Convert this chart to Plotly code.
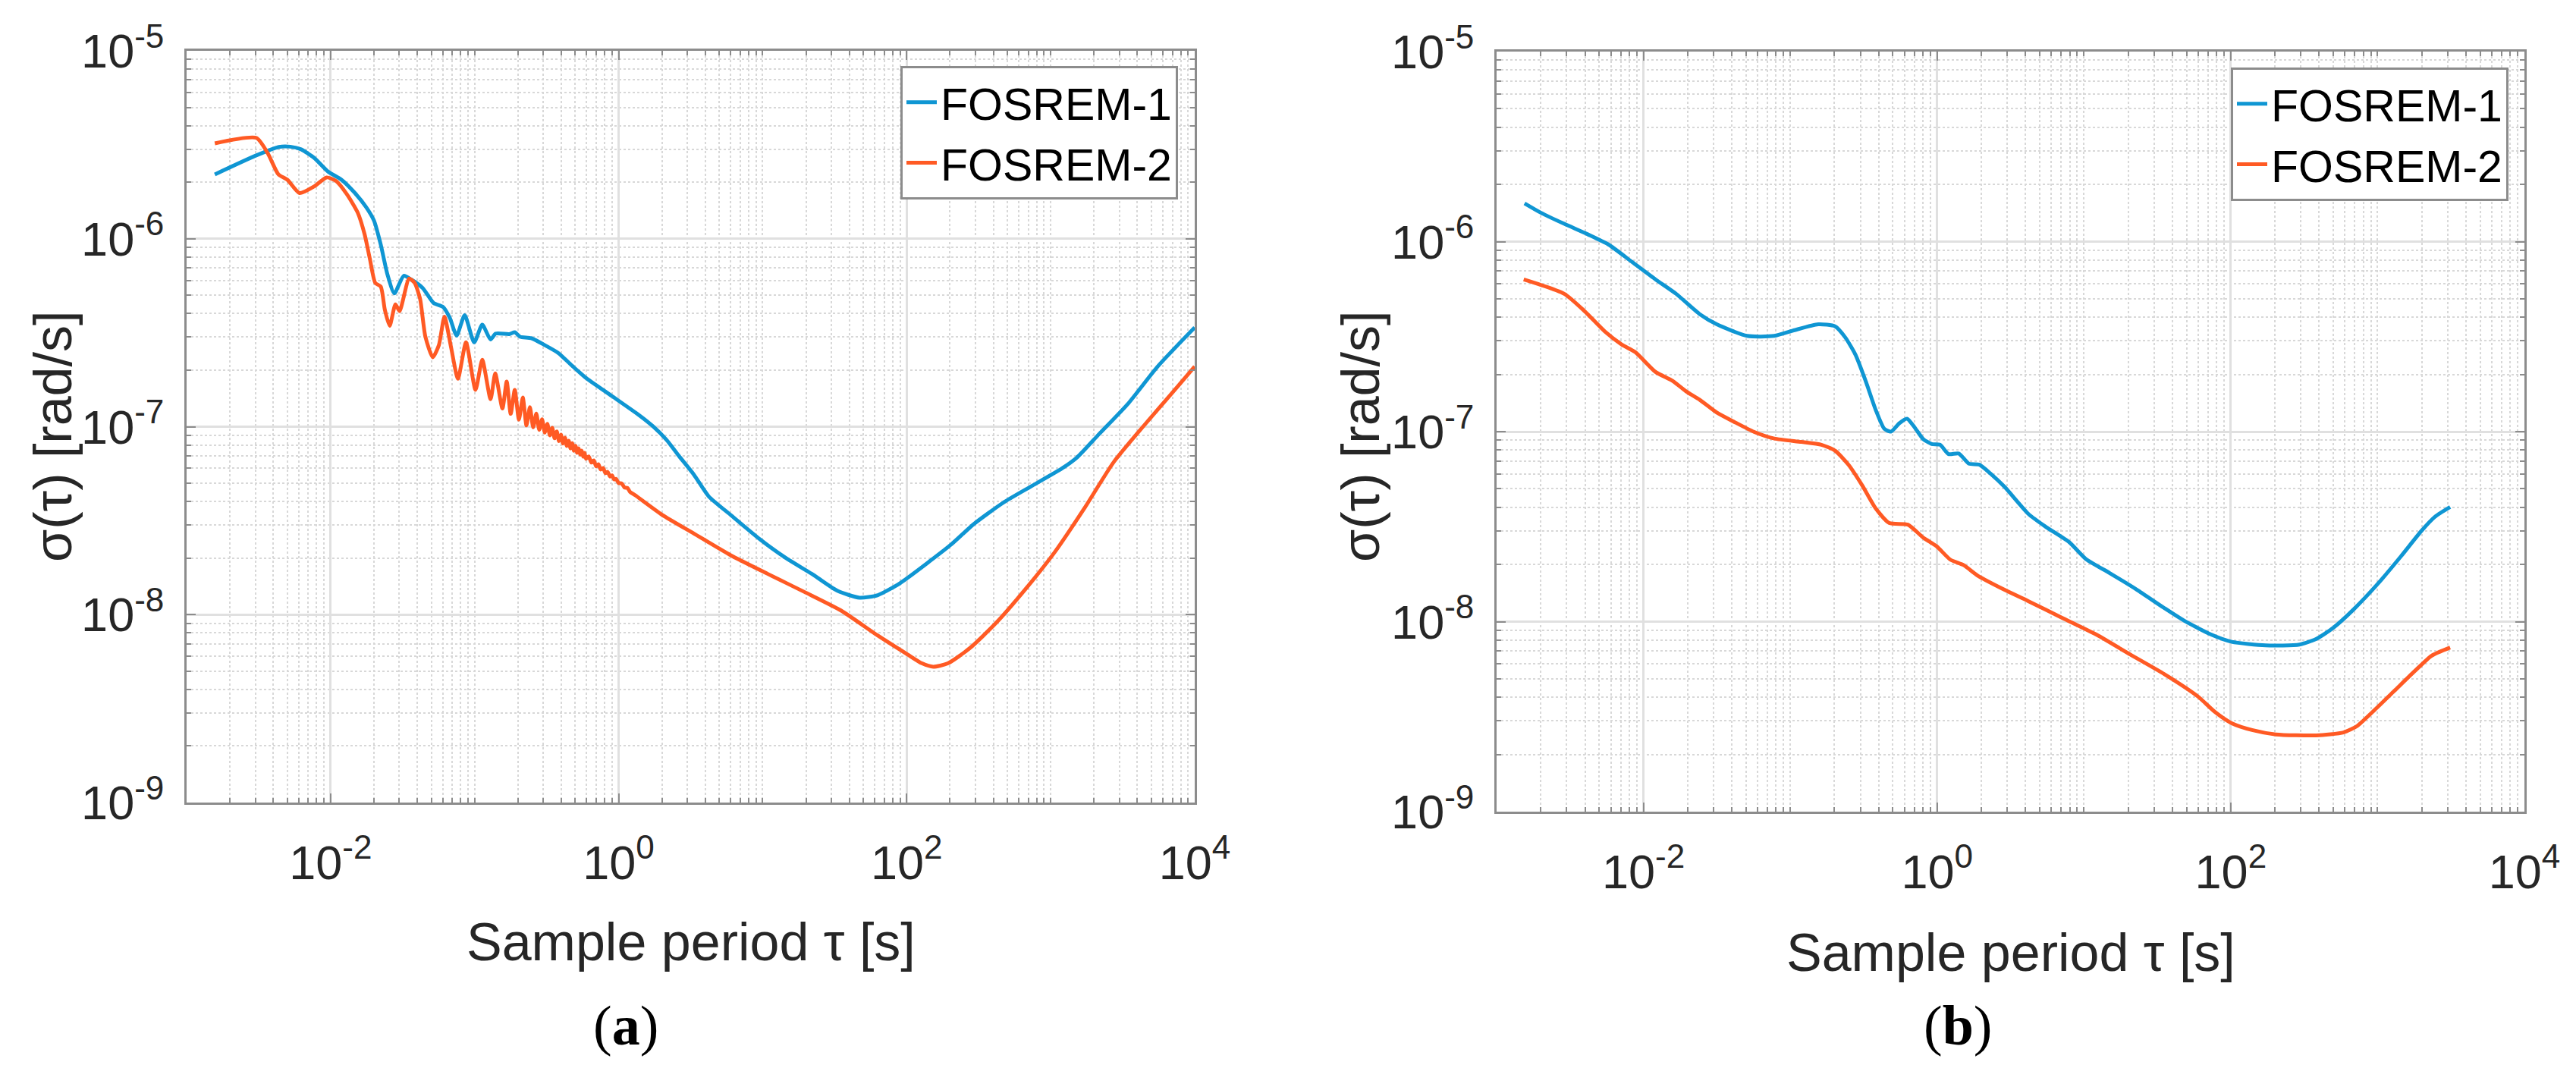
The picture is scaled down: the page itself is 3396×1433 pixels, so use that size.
import plotly.graph_objects as go

# values: (tau [s], sigma [rad/s])
a_fosrem1 = [
    (0.00157, 2.20e-6), (0.00302, 2.77e-6), (0.00437, 3.08e-6), (0.00525, 3.09e-6),
    (0.00624, 2.99e-6), (0.0077, 2.69e-6), (0.00957, 2.28e-6), (0.0119, 2.06e-6),
    (0.01476, 1.75e-6), (0.01758, 1.48e-6), (0.02, 1.25e-6), (0.0223, 9.29e-7),
    (0.0248, 6.46e-7), (0.0277, 5.12e-7), (0.0322, 6.35e-7), (0.0366, 6.04e-7),
    (0.0436, 5.47e-7), (0.0519, 4.55e-7), (0.0603, 4.34e-7), (0.0673, 3.79e-7),
    (0.075, 3.05e-7), (0.0853, 3.92e-7), (0.0993, 2.81e-7), (0.113, 3.49e-7),
    (0.129, 2.91e-7), (0.140, 3.13e-7), (0.174, 3.11e-7), (0.19, 3.18e-7),
    (0.207, 3.01e-7), (0.247, 2.96e-7), (0.306, 2.72e-7), (0.38, 2.47e-7),
    (0.472, 2.12e-7), (0.586, 1.83e-7), (0.904, 1.45e-7), (1.39, 1.15e-7),
    (1.73, 1.005e-7), (2.15, 8.51e-8), (2.63, 6.97e-8), (3.33, 5.56e-8),
    (4.22, 4.26e-8), (6.0, 3.39e-8), (9.62, 2.51e-8), (14.5, 2.0e-8),
    (21.9, 1.65e-8), (33.0, 1.34e-8), (47.1, 1.23e-8), (63.1, 1.27e-8),
    (89.9, 1.47e-8), (144, 1.92e-8), (205, 2.37e-8), (292, 3.03e-8),
    (468, 3.94e-8), (748, 4.86e-8), (1200, 6.0e-8), (1517, 6.84e-8),
    (2158, 9.1e-8), (3459, 1.33e-7), (5534, 2.09e-7), (10000, 3.37e-7),
]

a_fosrem2 = [
    (0.00157, 3.22e-6), (0.00305, 3.44e-6), (0.00366, 2.85e-6), (0.00434, 2.20e-6),
    (0.00501, 2.06e-6), (0.00608, 1.75e-6), (0.0077, 1.90e-6), (0.00938, 2.12e-6),
    (0.0109, 2.03e-6), (0.013, 1.72e-6), (0.0154, 1.38e-6), (0.0172, 1.06e-6),
    (0.0187, 7.87e-7), (0.0204, 5.83e-7), (0.0223, 5.56e-7), (0.0238, 4.19e-7),
    (0.0257, 3.44e-7), (0.0282, 4.48e-7), (0.0301, 4.12e-7), (0.0351, 6.14e-7),
    (0.0383, 5.83e-7), (0.0418, 4.79e-7), (0.0455, 3.01e-7), (0.0512, 2.34e-7),
    (0.0565, 2.72e-7), (0.0617, 3.85e-7), (0.0687, 2.63e-7), (0.0766, 1.80e-7),
    (0.0871, 2.81e-7), (0.1014, 1.57e-7), (0.113, 2.27e-7), (0.129, 1.40e-7),
    (0.139, 1.92e-7), (0.156, 1.25e-7), (0.167, 1.74e-7), (0.178, 1.17e-7),
    (0.19, 1.57e-7), (0.203, 1.09e-7), (0.216, 1.43e-7), (0.229, 1.016e-7),
    (0.242, 1.271e-7), (0.255, 9.93e-8), (0.268, 1.175e-7), (0.281, 9.62e-8),
    (0.294, 1.096e-7), (0.307, 9.31e-8), (0.32, 1.035e-7), (0.333, 8.99e-8),
    (0.346, 9.86e-8), (0.359, 8.67e-8), (0.372, 9.44e-8), (0.385, 8.39e-8),
    (0.398, 9.06e-8), (0.411, 8.13e-8), (0.424, 8.73e-8), (0.437, 7.89e-8),
    (0.45, 8.43e-8), (0.463, 7.66e-8), (0.476, 8.17e-8), (0.489, 7.45e-8),
    (0.502, 7.91e-8), (0.515, 7.26e-8), (0.528, 7.67e-8), (0.541, 7.10e-8),
    (0.554, 7.46e-8), (0.567, 6.92e-8), (0.58, 7.26e-8), (0.593, 6.75e-8),
    (0.62, 6.95e-8), (0.646, 6.44e-8), (0.672, 6.61e-8), (0.698, 6.15e-8),
    (0.724, 6.31e-8), (0.75, 5.92e-8), (0.78, 6.03e-8), (0.81, 5.66e-8),
    (0.84, 5.75e-8), (0.87, 5.43e-8), (0.9, 5.51e-8), (0.93, 5.24e-8),
    (0.96, 5.28e-8), (1.0, 5.01e-8), (1.05, 4.99e-8), (1.1, 4.74e-8),
    (1.15, 4.73e-8), (1.2, 4.50e-8), (1.3, 4.32e-8), (2.0, 3.40e-8),
    (3.33, 2.70e-8), (6.0, 2.07e-8), (10.8, 1.65e-8), (19.5, 1.32e-8),
    (35.1, 1.05e-8), (63.1, 7.73e-9), (101, 6.15e-9), (128, 5.50e-9),
    (153, 5.28e-9), (193, 5.50e-9), (275, 6.64e-9), (416, 9.0e-9),
    (665, 1.36e-8), (1067, 2.15e-8), (1706, 3.66e-8), (2735, 6.47e-8),
    (4375, 1.0e-7), (7015, 1.52e-7), (10000, 2.09e-7),
]

b_fosrem1 = [
    (0.00155, 1.59e-6), (0.002, 1.42e-6), (0.00289, 1.24e-6), (0.0042, 1.09e-6),
    (0.00577, 9.66e-7), (0.00836, 7.82e-7), (0.0121, 6.32e-7), (0.0167, 5.31e-7),
    (0.0242, 4.15e-7), (0.0316, 3.67e-7), (0.0508, 3.19e-7), (0.0778, 3.19e-7),
    (0.107, 3.42e-7), (0.155, 3.67e-7), (0.202, 3.58e-7), (0.237, 3.13e-7),
    (0.278, 2.54e-7), (0.326, 1.85e-7), (0.382, 1.30e-7), (0.437, 1.035e-7),
    (0.485, 1.0e-7), (0.555, 1.11e-7), (0.624, 1.17e-7), (0.705, 1.05e-7),
    (0.804, 9.14e-8), (0.918, 8.61e-8), (1.047, 8.53e-8), (1.197, 7.62e-8),
    (1.403, 7.67e-8), (1.648, 6.78e-8), (1.932, 6.71e-8), (2.32, 6.0e-8),
    (2.88, 5.12e-8), (4.2, 3.68e-8), (5.48, 3.16e-8), (7.94, 2.62e-8),
    (10.35, 2.13e-8), (15.0, 1.80e-8), (23.0, 1.47e-8), (35.2, 1.18e-8),
    (48.3, 1.01e-8), (74.0, 8.53e-9), (101.6, 7.83e-9), (172.6, 7.50e-9),
    (293.8, 7.57e-9), (382.8, 8.11e-9), (500, 9.29e-9), (687, 1.16e-8),
    (995, 1.57e-8), (1445, 2.21e-8), (1986, 3.0e-8), (2455, 3.56e-8),
    (3119, 4.01e-8),
]

b_fosrem2 = [
    (0.00153, 6.32e-7), (0.00289, 5.31e-7), (0.00398, 4.30e-7), (0.00547, 3.36e-7),
    (0.00713, 2.87e-7), (0.00881, 2.62e-7), (0.0121, 2.06e-7), (0.0158, 1.85e-7),
    (0.0195, 1.63e-7), (0.0242, 1.47e-7), (0.0316, 1.26e-7), (0.0411, 1.13e-7),
    (0.0565, 9.98e-8), (0.0778, 9.2e-8), (0.119, 8.83e-8), (0.163, 8.53e-8),
    (0.202, 7.94e-8), (0.25, 6.67e-8), (0.309, 5.21e-8), (0.382, 3.94e-8),
    (0.473, 3.30e-8), (0.632, 3.24e-8), (0.804, 2.77e-8), (0.994, 2.49e-8),
    (1.23, 2.12e-8), (1.52, 1.98e-8), (1.88, 1.75e-8), (2.88, 1.47e-8),
    (4.2, 1.28e-8), (7.14, 1.045e-8), (12.2, 8.53e-9), (20.7, 6.71e-9),
    (35.2, 5.30e-9), (59.7, 4.04e-9), (78.0, 3.35e-9), (101.6, 2.92e-9),
    (139.6, 2.69e-9), (202.8, 2.55e-9), (382.8, 2.52e-9), (586, 2.61e-9),
    (724, 2.82e-9), (944, 3.40e-9), (1300, 4.32e-9), (1786, 5.48e-9),
    (2328, 6.61e-9), (3119, 7.31e-9),
]

series_names = ["FOSREM-1", "FOSREM-2"]
series_colors = ["#0f96d3", "#ff5a24"]

x_tick_vals = [1e-2, 1e0, 1e2, 1e4]
x_tick_text = ["10<sup>-2</sup>", "10<sup>0</sup>", "10<sup>2</sup>", "10<sup>4</sup>"]
y_tick_vals = [1e-9, 1e-8, 1e-7, 1e-6, 1e-5]
y_tick_text = ["10<sup>-9</sup>", "10<sup>-8</sup>", "10<sup>-7</sup>", "10<sup>-6</sup>", "10<sup>-5</sup>"]

x_title = "Sample period τ [s]"
y_title = "σ(τ) [rad/s]"
panel_labels = ["(<b>a</b>)", "(<b>b</b>)"]

W, H = 3396, 1433
SANS = "Arial, Liberation Sans, sans-serif"
AXC = "#8c8c8c"
TXT = "#262626"

x_minor = [m * 10.0 ** k for k in range(-3, 4) for m in range(1, 10)
           if not (m == 1 and k % 2 == 0)]
y_minor = [m * 10.0 ** k for k in range(-9, -5) for m in range(2, 10)]


def log_axis(domain, rng, vals, text, minor_vals, anchor, standoff):
    return dict(
        type="log", domain=domain, range=rng, anchor=anchor, automargin=False,
        tickmode="array", tickvals=vals, ticktext=text,
        ticks="inside", ticklen=12, tickwidth=2, tickcolor=AXC,
        showline=True, linecolor=AXC, linewidth=3, mirror="ticks",
        showgrid=True, gridcolor="#e0e0e0", gridwidth=3, zeroline=False,
        tickfont=dict(family=SANS, size=63, color=TXT),
        ticklabelstandoff=standoff,
        minor=dict(tickmode="array", tickvals=minor_vals, ticks="inside",
                   ticklen=6, tickwidth=2, tickcolor=AXC, showgrid=True,
                   gridcolor="#d8d8d8", griddash="dot", gridwidth=2),
    )


fig = go.Figure()

panels = [(a_fosrem1, a_fosrem2, "x", "y", "legend"),
          (b_fosrem1, b_fosrem2, "x2", "y2", "legend2")]
for pts1, pts2, xa, ya, lg in panels:
    for pts, name, color in zip([pts1, pts2], series_names, series_colors):
        fig.add_trace(go.Scatter(
            x=[p[0] for p in pts], y=[p[1] for p in pts],
            mode="lines", name=name,
            line=dict(color=color, width=5, shape="spline", smoothing=0.6),
            xaxis=xa, yaxis=ya, legend=lg,
        ))

# pixel boxes of the two plot areas (left, right, top, bottom)
pa = (246, 1575, 67, 1058)
pb = (1973, 3328, 68, 1070)


def dom_x(p):
    return [p[0] / W, p[1] / W]


def dom_y(p):
    return [1 - p[3] / H, 1 - p[2] / H]


legend_style = dict(
    xanchor="right", yanchor="top", bgcolor="white",
    bordercolor=AXC, borderwidth=3,
    font=dict(family=SANS, size=59, color="black"),
    tracegroupgap=0, itemwidth=40,
)

fig.update_layout(
    width=W, height=H, autosize=False,
    margin=dict(l=0, r=0, t=0, b=0),
    paper_bgcolor="white", plot_bgcolor="white",
    xaxis=log_axis(dom_x(pa), [-3, 4], x_tick_vals, x_tick_text, x_minor, "y", 22),
    yaxis=log_axis(dom_y(pa), [-9, -5], y_tick_vals, y_tick_text, y_minor, "x", 14),
    xaxis2=log_axis(dom_x(pb), [-3, 4], x_tick_vals, x_tick_text, x_minor, "y2", 22),
    yaxis2=log_axis(dom_y(pb), [-9, -5], y_tick_vals, y_tick_text, y_minor, "x2", 14),
    legend=dict(x=1553 / W, y=1 - 87 / H, **legend_style),
    legend2=dict(x=3307 / W, y=1 - 89 / H, **legend_style),
    showlegend=True,
)

title_font = dict(family=SANS, size=70, color=TXT)
label_font = dict(family="Liberation Serif, Times New Roman, serif", size=74, color="black")
for p, xt_y, lab_x, lab in [(pa, 1242, 825, panel_labels[0]),
                            (pb, 1256, 2581, panel_labels[1])]:
    cx = (p[0] + p[1]) / 2 / W
    fig.add_annotation(x=cx, y=1 - xt_y / H, xref="paper", yref="paper",
                       text=x_title, showarrow=False, font=title_font,
                       xanchor="center", yanchor="middle")
    fig.add_annotation(x=lab_x / W, y=1 - 1352 / H, xref="paper", yref="paper",
                       text=lab, showarrow=False, font=label_font,
                       xanchor="center", yanchor="middle")
for yx in [70, 1794]:
    fig.add_annotation(x=yx / W, y=1 - 576 / H, xref="paper", yref="paper",
                       text=y_title, showarrow=False, font=title_font,
                       textangle=-90, xanchor="center", yanchor="middle")

fig.write_html("out.html", config={"displayModeBar": False},
               post_script="document.body.style.margin='0';")
